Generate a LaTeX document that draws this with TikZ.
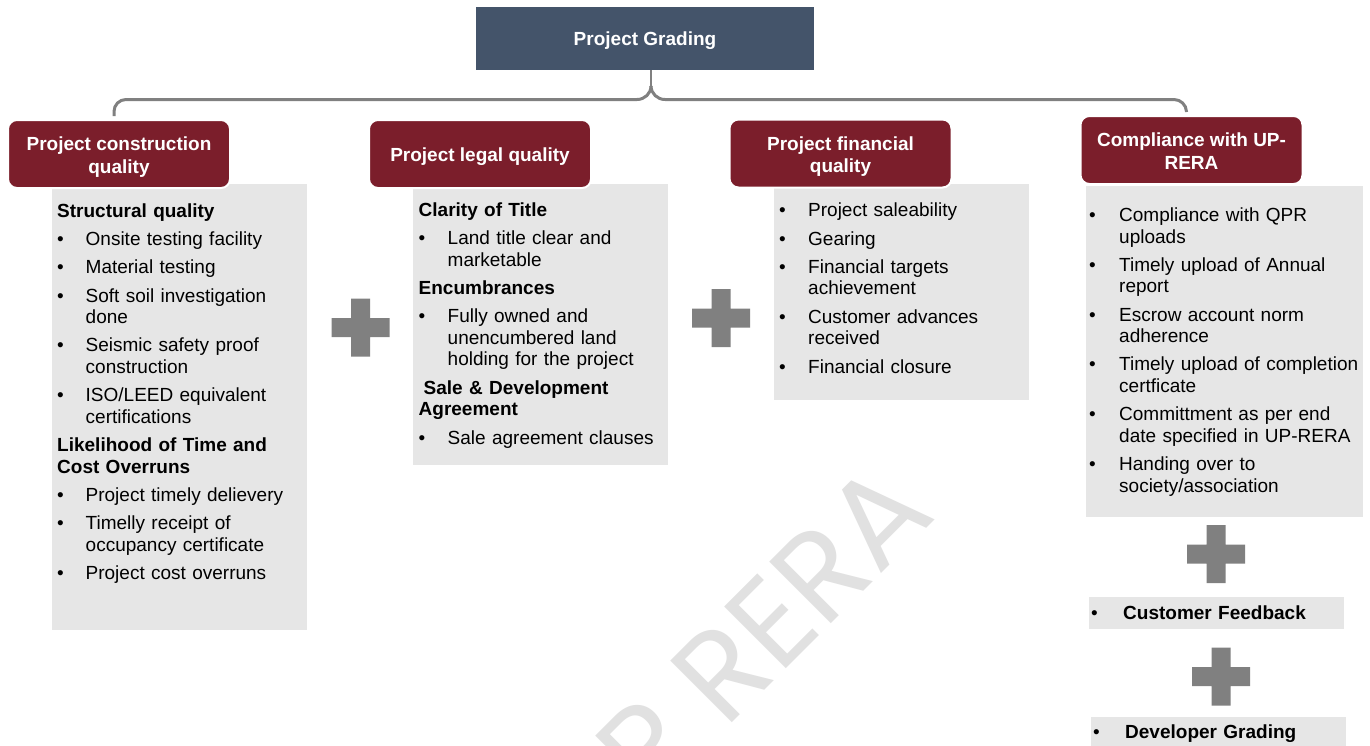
\documentclass[tikz,border=0pt]{standalone}
\usepackage{fontspec}
\setmainfont{Liberation Sans}
\newfontfamily\wmfont{Poppins}
\usetikzlibrary{calc}

\definecolor{topblue}{RGB}{68,84,106}
\definecolor{hdred}{RGB}{123,30,43}
\definecolor{boxgray}{RGB}{230,230,230}
\definecolor{plusgray}{RGB}{128,128,128}
\definecolor{wmgray}{RGB}{225,225,225}

% list helpers for the grey panels
\newlength\hangamt
\newcommand\lstsetup[1]{\setlength\hangamt{#1}\setlength\parskip{6.8pt}\setlength\parindent{0pt}\raggedright}
\newcommand\hd[1]{\par\noindent\rule{0pt}{15pt}\textbf{#1}\par}
\newcommand\bi[1]{\par\noindent\hangindent=\hangamt\hangafter=1\rule{0pt}{15pt}\makebox[\hangamt][l]{\textbullet}#1\par}

\tikzset{
  topbox/.style={fill=topblue, minimum width=338pt, minimum height=63pt, inner sep=0pt},
  toptext/.style={text=white, font=\bfseries\fontsize{19}{22}\selectfont, inner sep=0pt},
  hdbox/.style={fill=hdred, draw=white, line width=2pt, rounded corners=9pt,
    minimum width=222pt, minimum height=68pt, inner sep=0pt},
  hdtext/.style={text=white, font=\bfseries\fontsize{19}{22.5}\selectfont, align=center, inner sep=0pt},
  panel/.style={fill=boxgray, inner sep=0pt},
  paneltext/.style={anchor=north west, inner sep=0pt, text width=330pt,
    font=\fontsize{19}{21.5}\selectfont},
  bracket/.style={draw=plusgray, line width=3pt},
  plussign/.pic={\fill[plusgray] (-29,-9.5) rectangle (29,9.5) (-9.5,-29) rectangle (9.5,29);}
}

\begin{document}
\begin{tikzpicture}[x=1pt,y=-1pt]
\clip (0,0) rectangle (1370,745);
\fill[white] (0,0) rectangle (1370,745);

% watermark
\node[rotate=45, anchor=base east, inner sep=0pt, text=wmgray,
  font=\wmfont\fontsize{125}{125}\selectfont] (wm) at (938,517) {UP RERA};

% root
\node[topbox] (top) at (645,38.5) {};
\node[toptext] (toplbl) at (645,40.5) {Project Grading};

% grey panels
\node[panel, minimum width=255pt, minimum height=446pt] (g1) at (179.5,407) {};
\node[panel, minimum width=255pt, minimum height=281pt] (g2) at (540.5,324.5) {};
\node[panel, minimum width=255pt, minimum height=216pt] (g3) at (901.5,292) {};
\node[panel, minimum width=277pt, minimum height=331pt] (g4) at (1224.5,351.5) {};
\node[panel, minimum width=255pt, minimum height=32pt] (cf) at (1216.5,613) {};
\node[panel, minimum width=255pt, minimum height=33pt] (dg) at (1218.5,733.5) {};

% headers
\node[hdbox] (h1) at (119,154) {};
\node[hdbox] (h2) at (480,154) {};
\node[hdbox] (h3) at (840.5,153.5) {};
\node[hdbox] (h4) at (1191.5,150) {};
\node[hdtext] (h1t) at (119,157) {Project construction\\quality};
\node[hdtext] (h2t) at (480,157) {Project legal quality};
\node[hdtext] (h3t) at (840.5,156.5) {Project financial\\quality};
\node[hdtext] (h4t) at (1191.5,151) {Compliance with UP-\\RERA};

% bracket from the root to the four headers
\coordinate (brace) at (651,86);
\coordinate (bl) at (637,99.5);
\coordinate (br) at (665,99.5);
\draw[bracket, line width=2.5pt] (top.south -| brace) -- (brace);
\draw[bracket] (brace) to[out=-90,in=0] (bl);
\draw[bracket] (brace) to[out=-90,in=180] (br);
\draw[bracket, rounded corners=12pt] (bl) -- (114,99.5) -- ($(h1.north)+(-5,-3)$);
\draw[bracket, rounded corners=12pt] (br) -- (1186,99.5) -- ($(h4.north)+(-5,-3)$);

% plus signs
\pic at (360.5,327.5) {plussign};
\pic at (721,318) {plussign};
\pic at (1216,554) {plussign};
\pic at (1221,676.5) {plussign};

% panel contents
\node[paneltext] (t1) at (57,188.7) {\lstsetup{28.5pt}%
\hd{Structural quality}
\bi{Onsite testing facility}
\bi{Material testing}
\bi{Soft soil investigation\newline done}
\bi{Seismic safety proof\newline construction}
\bi{ISO/LEED equivalent\newline certifications}
\hd{Likelihood of Time and\newline Cost Overruns}
\bi{Project timely delievery}
\bi{Timelly receipt of\newline occupancy certificate}
\bi{Project cost overruns}};

\node[paneltext] (t2) at (418.5,188) {\lstsetup{29pt}%
\hd{Clarity of Title}
\bi{Land title clear and\newline marketable}
\hd{Encumbrances}
\bi{Fully owned and\newline unencumbered land\newline holding for the project}
\hd{\hspace*{5pt}Sale \& Development\newline Agreement}
\bi{Sale agreement clauses}};

\node[paneltext] (t3) at (779,188.3) {\lstsetup{29pt}%
\bi{Project saleability}
\bi{Gearing}
\bi{Financial targets\newline achievement}
\bi{Customer advances\newline received}
\bi{Financial closure}};

\node[paneltext] (t4) at (1089,193) {\lstsetup{30pt}%
\bi{Compliance with QPR\newline uploads}
\bi{Timely upload of Annual\newline report}
\bi{Escrow account norm\newline adherence}
\bi{Timely upload of completion\newline certficate}
\bi{Committment as per end\newline date specified in UP-RERA}
\bi{Handing over to\newline society/association}};

\node[paneltext] (tcf) at (1091,591) {\lstsetup{32pt}%
\bi{\textbf{Customer Feedback}}};
\node[paneltext] (tdg) at (1093,710) {\lstsetup{32pt}%
\bi{\textbf{Developer Grading}}};

\end{tikzpicture}
\end{document}
